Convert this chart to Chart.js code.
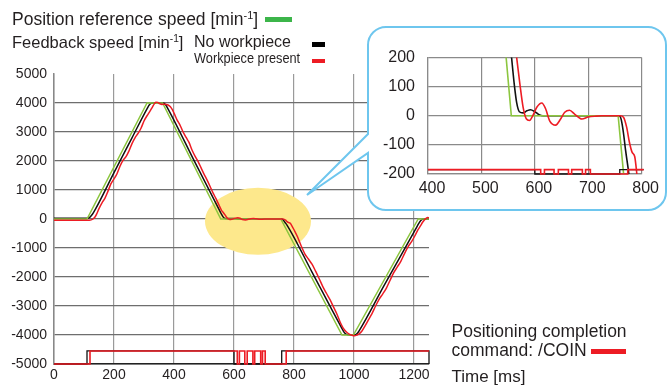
<!DOCTYPE html>
<html>
<head>
<meta charset="utf-8">
<title>Positioning speed response</title>
<script src="https://cdn.jsdelivr.net/npm/chart.js@4.4.1/dist/chart.umd.min.js"></script>
<style>
  html, body { margin: 0; padding: 0; background: #fff; overflow: hidden; }
  #wrap { position: relative; width: 667px; height: 385px; font-family: "Liberation Sans", Arial, sans-serif; color: #231f20; }
  #mainChart { position: absolute; left: 0; top: 0; }
  #zoomChart { position: absolute; left: 375px; top: 35px; }
  .t { position: absolute; line-height: 1; white-space: nowrap; }
  .t sup { font-size: 0.62em; vertical-align: 0; position: relative; top: -0.55em; }
  .sw { position: absolute; }
</style>
</head>
<body>
<div id="wrap">
  <canvas id="mainChart" width="667" height="385"></canvas>
  <canvas id="zoomChart" width="285" height="170"></canvas>

  <div class="t" style="left:12px;top:11.2px;font-size:17.5px;">Position reference speed [min<sup>-1</sup>]</div>
  <div class="sw" style="left:265px;top:17px;width:27px;height:5px;background:#3cb54a;"></div>

  <div class="t" style="left:12px;top:33.5px;font-size:16.5px;">Feedback speed [min<sup>-1</sup>]</div>
  <div class="t" style="left:194px;top:34px;font-size:16px;">No workpiece</div>
  <div class="sw" style="left:312px;top:42px;width:13px;height:4.5px;background:#000;"></div>
  <div class="t" style="left:194px;top:51px;font-size:14.5px;transform:scaleX(0.88);transform-origin:left top;">Workpiece present</div>
  <div class="sw" style="left:312px;top:58.5px;width:13px;height:4.5px;background:#ed1c24;"></div>

  <div class="t" style="left:451.5px;top:323px;font-size:17.5px;">Positioning completion</div>
  <div class="t" style="left:451.5px;top:342px;font-size:17.5px;">command: /COIN</div>
  <div class="sw" style="left:591px;top:348.5px;width:35px;height:5px;background:#ed1c24;"></div>
  <div class="t" style="left:451.5px;top:367.5px;font-size:17px;">Time [ms]</div>
</div>

<script>
// position reference speed [min-1]
const refTime  = [0, 110, 310, 362, 556, 756, 960, 998, 1214, 1250];
const refSpeed = [0, 0, 4000, 4000, 0, 0, -4000, -4000, 0, 0];

// feedback speed, no workpiece
const noLoadTime  = [0, 112, 118, 124, 132, 200, 260, 310, 318, 326, 340, 360, 366, 372, 380, 470, 550, 557, 562, 566,
                     571, 578, 585, 592, 600, 607, 615, 758, 762, 766, 770, 776, 860, 960, 966, 972, 980, 995, 1005, 1012,
                     1018, 1100, 1210, 1216, 1222, 1228, 1236, 1250];
const noLoadSpeed = [30, 30, 50, 110, 230, 1600, 2800, 3800, 3940, 3995, 4010, 4000, 3990, 3940, 3800, 1950, 330, 190, 100, 45,
                     14, 10, 17, 21, 14, 5, 0, 0, -15, -60, -120, -200, -1830, -3780, -3890, -3960, -3995, -4010, -3990, -3930,
                     -3840, -2300, -263, -150, -60, -15, 0, 0];

// feedback speed, workpiece present
const loadTime  = [0, 118, 124, 130, 136, 142, 150, 160, 170, 180, 190, 200, 210, 220, 230, 240, 250, 260, 270, 280,
                   290, 300, 310, 320, 328, 335, 340, 346, 352, 360, 368, 374, 380, 388, 395, 400, 410, 420, 430, 440,
                   450, 460, 470, 480, 490, 500, 510, 520, 530, 540, 550, 558, 566, 572, 578, 584, 590, 596, 604, 613,
                   620, 628, 639, 648, 656, 665, 675, 688, 700, 715, 725, 760, 766, 772, 777, 782, 787, 791, 800, 812,
                   824, 836, 848, 860, 872, 884, 896, 908, 920, 932, 944, 954, 964, 974, 984, 994, 1002, 1010, 1018, 1026,
                   1036, 1048, 1060, 1072, 1084, 1096, 1108, 1120, 1132, 1144, 1156, 1168, 1180, 1192, 1204, 1214, 1222, 1228, 1234, 1240,
                   1245, 1250];
const loadSpeed = [-40, -40, -30, 0, 60, 170, 360, 560, 720, 960, 1220, 1380, 1560, 1820, 2020, 2150, 2350, 2600, 2800, 2950,
                   3130, 3380, 3560, 3720, 3860, 3980, 4030, 4020, 3980, 3950, 3960, 3950, 3930, 3870, 3760, 3650, 3420, 3240, 3010, 2820,
                   2640, 2380, 2170, 1990, 1770, 1550, 1350, 1130, 900, 700, 480, 310, 200, 110, 30, -10, -16, 0, 30, 44,
                   25, -18, -32, -12, 12, 19, 5, -11, -4, -1, 0, 0, -5, -40, -90, -125, -140, -200, -370, -620,
                   -930, -1200, -1380, -1560, -1800, -2060, -2330, -2560, -2780, -3040, -3300, -3560, -3760, -3890, -3970, -4010, -4030, -4000, -3950, -3870,
                   -3700, -3480, -3260, -3000, -2760, -2580, -2380, -2120, -1860, -1660, -1460, -1200, -960, -780, -560, -360, -230, -120, -40, 20,
                   50, 40];

// /COIN output (0 = off, 1 = on)
const coinNoLoadTime  = [0, 110, 600, 759, 1250];
const coinNoLoadState = [0, 1, 0, 1, 0];
const coinLoadTime  = [0, 120, 611, 618, 636, 644, 663, 669, 689, 695, 704, 774, 1250];
const coinLoadState = [0, 1, 0, 1, 0, 1, 0, 1, 0, 1, 0, 1, 1];

const mainXTicks = [0, 200, 400, 600, 800, 1000, 1200];
const mainYTicks = [-5000, -4000, -3000, -2000, -1000, 0, 1000, 2000, 3000, 4000, 5000];
const zoomXTicks = [400, 500, 600, 700, 800];
const zoomYTicks = [-200, -100, 0, 100, 200];

const GREEN = '#8cc63f';
const RED = '#ed1c24';
const BLACK = '#111111';

Chart.defaults.font.family = '"Liberation Sans", Arial, sans-serif';
Chart.defaults.color = '#231f20';

const pts = (t, v) => t.map((x, i) => ({ x: x, y: v[i] }));
const coinPts = (t, s, low, high) => t.map((x, i) => ({ x: x, y: s[i] ? high : low }));

function speedSets(width) {
  return [
    { label: 'Workpiece present', data: pts(loadTime, loadSpeed), borderColor: RED, borderWidth: width, cubicInterpolationMode: 'monotone', order: 2 },
    { label: 'Position reference speed', data: pts(refTime, refSpeed), borderColor: GREEN, borderWidth: width, order: 3 },
    { label: 'No workpiece', data: pts(noLoadTime, noLoadSpeed), borderColor: BLACK, borderWidth: width, cubicInterpolationMode: 'monotone', order: 4 }
  ];
}

function coinSets(low, high) {
  return [
    { label: '/COIN workpiece', data: coinPts(coinLoadTime, coinLoadState, low, high), borderColor: RED, borderWidth: 1.6, stepped: true, order: 0, clip: { left: 0, top: 0, right: 2, bottom: 3 } },
    { label: '/COIN no workpiece', data: coinPts(coinNoLoadTime, coinNoLoadState, low, high), borderColor: BLACK, borderWidth: 1.3, stepped: true, order: 1, clip: { left: 0, top: 0, right: 2, bottom: 3 } }
  ];
}

// yellow highlight behind the lines
const highlight = {
  id: 'highlight',
  beforeDatasetsDraw(chart) {
    const { ctx, scales: { x, y } } = chart;
    ctx.save();
    ctx.fillStyle = '#fde88c';
    ctx.beginPath();
    ctx.ellipse(x.getPixelForValue(680), y.getPixelForValue(-80), 53, 33.5, 0, 0, Math.PI * 2);
    ctx.fill();
    ctx.restore();
  }
};

// speech bubble that holds the zoomed chart
const callout = {
  id: 'callout',
  afterDraw(chart) {
    const ctx = chart.ctx;
    const l = 368, t = 27, r = 666, b = 210, rad = 18;
    ctx.save();
    ctx.beginPath();
    ctx.moveTo(l + rad, t);
    ctx.lineTo(r - rad, t);
    ctx.arcTo(r, t, r, t + rad, rad);
    ctx.lineTo(r, b - rad);
    ctx.arcTo(r, b, r - rad, b, rad);
    ctx.lineTo(l + rad, b);
    ctx.arcTo(l, b, l, b - rad, rad);
    ctx.lineTo(l, 153);
    ctx.lineTo(307, 195);
    ctx.lineTo(l, 134);
    ctx.lineTo(l, t + rad);
    ctx.arcTo(l, t, l + rad, t, rad);
    ctx.closePath();
    ctx.fillStyle = '#ffffff';
    ctx.fill();
    ctx.strokeStyle = '#6ec6ee';
    ctx.lineWidth = 2;
    ctx.stroke();
    ctx.restore();
  }
};

new Chart(document.getElementById('mainChart'), {
  type: 'line',
  data: { datasets: speedSets(1.5).concat(coinSets(-5000, -4550)) },
  options: {
    responsive: false,
    animation: false,
    layout: { padding: { top: 74, right: 238, bottom: 1, left: 0 } },
    elements: { point: { radius: 0 }, line: { fill: false } },
    plugins: { legend: { display: false }, tooltip: { enabled: false } },
    scales: {
      x: {
        type: 'linear', min: 0, max: 1250,
        afterBuildTicks: s => { s.ticks = mainXTicks.map(v => ({ value: v })); },
        afterFit: s => { s.height = 20; },
        ticks: { font: { size: 14 }, padding: 3, maxRotation: 0, autoSkip: false, callback: v => String(v) },
        grid: { color: '#9a9a9a', lineWidth: 1.2, drawTicks: false },
        border: { color: '#222222', width: 1.5 }
      },
      y: {
        type: 'linear', min: -5000, max: 5000,
        afterBuildTicks: s => { s.ticks = mainYTicks.map(v => ({ value: v })); },
        afterFit: s => { s.width = 54; },
        ticks: { font: { size: 14 }, padding: 7, autoSkip: false, callback: v => String(v) },
        grid: { color: c => (c.tick && c.tick.value === 5000) ? 'rgba(0,0,0,0)' : '#6e6e6e', lineWidth: 1.2, drawTicks: false },
        border: { color: '#888888', width: 1.5 }
      }
    }
  },
  plugins: [highlight, callout]
});

new Chart(document.getElementById('zoomChart'), {
  type: 'line',
  data: { datasets: speedSets(1.6).concat(coinSets(-200, -185)) },
  options: {
    responsive: false,
    animation: false,
    layout: { padding: { top: 18, right: 17, bottom: 1, left: 0 } },
    elements: { point: { radius: 0 }, line: { fill: false } },
    plugins: { legend: { display: false }, tooltip: { enabled: false } },
    scales: {
      x: {
        type: 'linear', min: 400, max: 800,
        afterBuildTicks: s => { s.ticks = zoomXTicks.map(v => ({ value: v })); },
        afterFit: s => { s.height = 30; },
        ticks: { font: { size: 16 }, padding: 5, labelOffset: 4, maxRotation: 0, autoSkip: false, callback: v => String(v) },
        grid: { color: '#8a8a8a', lineWidth: 1.2, drawTicks: false },
        border: { color: '#8a8a8a', width: 1.2 }
      },
      y: {
        type: 'linear', min: -200, max: 200,
        afterBuildTicks: s => { s.ticks = zoomYTicks.map(v => ({ value: v })); },
        afterFit: s => { s.width = 53; },
        ticks: { font: { size: 16 }, padding: 13, autoSkip: false, callback: v => String(v) },
        grid: { color: '#8a8a8a', lineWidth: 1.2, drawTicks: false },
        border: { color: '#8a8a8a', width: 1.2 }
      }
    }
  }
});
</script>
</body>
</html>
